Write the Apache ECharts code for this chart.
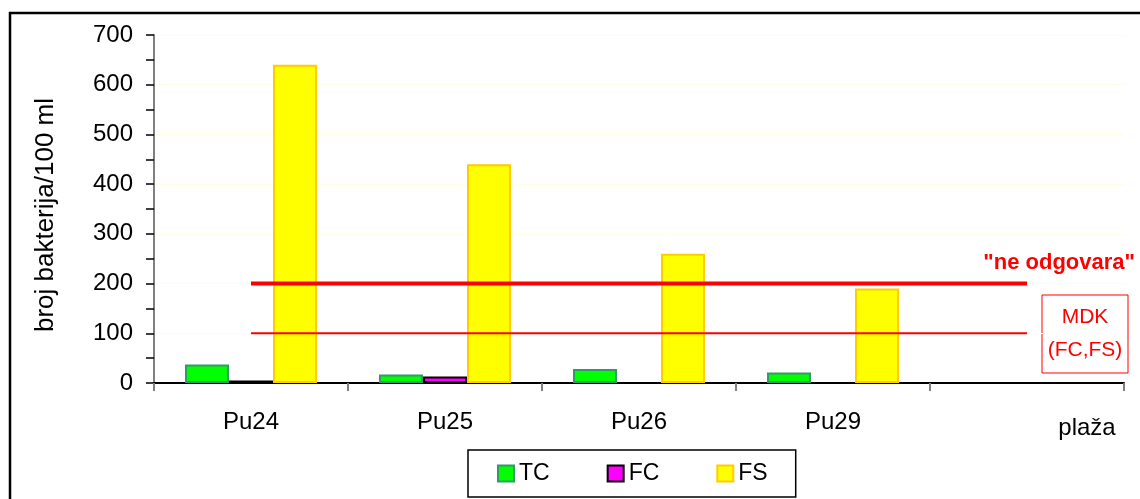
<!DOCTYPE html>
<html>
<head>
<meta charset="utf-8">
<script src="https://cdn.jsdelivr.net/npm/echarts@6/dist/echarts.min.js"></script>
<style>
html,body{margin:0;padding:0;background:#fff;}
#c{width:1140px;height:499px;}
</style>
</head>
<body>
<div id="c"></div>
<script>
var categories = ['Pu24', 'Pu25', 'Pu26', 'Pu29', ''];
var tcValues = [37, 17, 28, 21, '-'];
var fcValues = [5, 13, '-', '-', '-'];
var fsValues = [640, 440, 260, 190, '-'];
var limitNotCompliant = [200, 200, 200, 200, 200];
var limitMDK = [100, 100, 100, 100, 100];
var yTicks = [0, 100, 200, 300, 400, 500, 600, 700];

var FONT = 'Arial, "Liberation Sans", sans-serif';
var chart = echarts.init(document.getElementById('c'));
chart.setOption({
  animation: false,
  backgroundColor: '#fff',
  textStyle: { fontFamily: FONT, color: '#000' },
  grid: { left: 154, right: 16, top: 35, bottom: 116 },
  legend: {
    data: ['TC', 'FC', 'FS'],
    left: 468, top: 450,
    orient: 'horizontal',
    itemWidth: 16, itemHeight: 16, itemGap: 57,
    padding: [12, 28, 12, 29],
    borderColor: '#000', borderWidth: 1.5,
    icon: 'rect',
    textStyle: { fontFamily: FONT, fontSize: 23, color: '#000' }
  },
  xAxis: {
    type: 'category',
    data: categories,
    axisLine: { lineStyle: { color: '#000', width: 2 } },
    axisTick: { show: true, length: 8, lineStyle: { color: '#808080', width: 2 } },
    axisLabel: { fontFamily: FONT, fontSize: 24, color: '#000', margin: 27 },
    splitLine: { show: false }
  },
  yAxis: {
    type: 'value',
    min: yTicks[0], max: yTicks[yTicks.length - 1], interval: 100,
    axisLine: { show: true, lineStyle: { color: '#808080', width: 2 } },
    axisTick: { show: true, length: 8, lineStyle: { color: '#000', width: 1.5 } },
    minorTick: { show: true, splitNumber: 2, length: 8, lineStyle: { color: '#000', width: 1.5 } },
    axisLabel: { fontFamily: FONT, fontSize: 24, color: '#000', margin: 21 },
    splitLine: { show: true, lineStyle: { color: '#fffde8', width: 1 } }
  },
  series: [
    {
      name: 'TC', type: 'bar', data: tcValues, barWidth: 44, barGap: '0%',
      itemStyle: { color: '#00ff00', borderColor: '#339966', borderWidth: 2 }
    },
    {
      name: 'FC', type: 'bar', data: fcValues, barWidth: 44, barGap: '0%',
      itemStyle: { color: '#ff00ff', borderColor: '#000', borderWidth: 2 }
    },
    {
      name: 'FS', type: 'bar', data: fsValues, barWidth: 44, barGap: '0%',
      itemStyle: { color: '#ffff00', borderColor: '#ffcc00', borderWidth: 2 }
    },
    {
      name: 'ne odgovara', type: 'line', data: limitNotCompliant, symbol: 'none',
      lineStyle: { color: '#ff0000', width: 4 }, z: 5
    },
    {
      name: 'MDK', type: 'line', data: limitMDK, symbol: 'none',
      lineStyle: { color: '#ff0000', width: 2 }, z: 5
    }
  ],
  graphic: [
    {
      type: 'rect', shape: { x: 10, y: 13, width: 1300, height: 700 },
      style: { fill: 'none', stroke: '#000', lineWidth: 2.5 }, silent: true, z: 100
    },
    {
      type: 'text', x: 46, y: 215, rotation: Math.PI / 2,
      style: { text: 'broj bakterija/100 ml', font: '26px ' + FONT, fill: '#000', align: 'center', verticalAlign: 'middle' }
    },
    {
      type: 'text', x: 1135, y: 263,
      style: { text: '"ne odgovara"', font: 'bold 22px ' + FONT, fill: '#ff0000', align: 'right', verticalAlign: 'middle' }
    },
    {
      type: 'rect', shape: { x: 1042, y: 295, width: 86, height: 78 },
      style: { fill: '#fff', stroke: '#ff0000', lineWidth: 1 }
    },
    {
      type: 'text', x: 1085, y: 317,
      style: { text: 'MDK', font: '21px ' + FONT, fill: '#ff0000', align: 'center', verticalAlign: 'middle' }
    },
    {
      type: 'text', x: 1085, y: 350,
      style: { text: '(FC,FS)', font: '21px ' + FONT, fill: '#ff0000', align: 'center', verticalAlign: 'middle' }
    },
    {
      type: 'text', x: 1087, y: 428,
      style: { text: 'plaža', font: '24px ' + FONT, fill: '#000', align: 'center', verticalAlign: 'middle' }
    }
  ]
});
</script>
</body>
</html>
